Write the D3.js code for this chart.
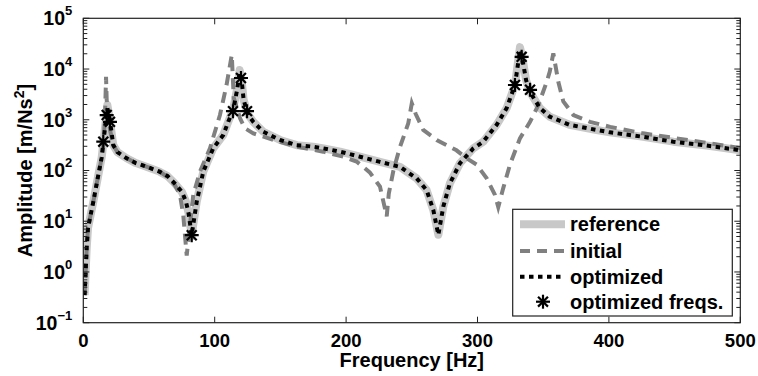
<!DOCTYPE html>
<html>
<head>
<meta charset="utf-8">
<script src="https://cdn.jsdelivr.net/npm/d3@7"></script>
<style>
    body { margin: 0; background: #fff; }
    text { font-family: "Liberation Sans", Arial, Helvetica, sans-serif; font-weight: bold; fill: #000; }
</style>
</head>
<body>
<div id="chart"></div>
<script>
// frequency grid (Hz) and amplitudes
const refFreq = [1, 2.6, 3.6, 5.5, 7.6, 11.4, 14, 15.5, 17, 18.3, 19.5, 21, 22.8, 26, 33, 40, 48, 58, 64, 69, 75, 78, 80,
    81.5, 82.5, 83.5, 86.3, 91.3, 98.9, 106.5, 110.3, 114, 117, 119, 120.5, 122, 125, 129.4, 137, 149.7, 162.4, 175,
    182.9, 195.4, 210.6, 225.8, 241, 253.7, 261.3, 266.4, 270.2, 274, 279, 286.7, 296.8, 304.4, 314.6, 322.2, 328.5,
    332.3, 334.5, 337, 340, 347.5, 355, 370, 390.7, 400.8, 423.7, 449, 474.4, 500];
const refAmp = [0.35, 3, 7.4, 13, 24, 81, 180, 400, 900, 1950, 1300, 700, 316, 230, 174, 140, 119, 95, 78, 58, 38, 25, 15,
    8, 5, 8, 24, 95, 275, 500, 910, 1600, 4000, 9600, 6000, 2500, 1300, 910, 580, 400, 316, 295,
    273, 235, 187, 148, 118, 70, 41, 16.5, 5.4, 19.5, 56, 140, 273, 370, 795, 1700, 4840,
    27000, 15000, 6000, 3500, 1700, 1150, 795, 630, 565, 470, 370, 310, 250];
// optimized model, on the same grid as the reference
const optAmp = [0.35, 3, 7.4, 13, 24, 81, 180, 400, 900, 1700, 1250, 700, 316, 230, 174, 140, 119, 95, 78, 58, 38, 25, 15,
    8, 5.3, 8, 24, 95, 275, 500, 910, 1550, 3800, 8500, 6000, 2500, 1300, 910, 580, 400, 316, 295,
    273, 235, 187, 148, 118, 70, 41, 16.5, 5.4, 19.5, 56, 140, 273, 370, 795, 1700, 4840,
    23000, 14000, 6000, 3500, 1700, 1150, 795, 630, 565, 470, 370, 310, 250];
const initFreq = [1, 2.6, 3.6, 5.5, 7.6, 11.4, 14, 15.5, 16.5, 17.3, 17.8, 19, 20.5, 22.8, 26, 33, 40, 48, 58, 64, 69.8,
    73.6, 76.1, 78.7, 80.5, 83.7, 88.8, 96.4, 104, 109, 113, 114.5, 119.3, 123, 129.4, 144.6, 162.4, 182.6, 197.9,
    208, 218, 225.8, 230.9, 232.5, 236, 241, 247.3, 250, 253, 258.7, 268.9, 276.5, 284, 291.8, 299.4, 307, 313.3,
    315.8, 319.6, 324.7, 332.3, 340, 346.3, 352.7, 355, 357.7, 361.5, 365.3, 373, 385.6, 401, 426, 451.6, 475, 500];
const initAmp = [0.35, 3, 7.4, 13, 24, 81, 180, 400, 1100, 7000, 2500, 1100, 600, 316, 230, 174, 140, 119, 95, 75, 51,
    33, 13, 2.1, 6, 33, 95, 275, 1240, 4840, 19000, 2700, 1070, 680, 540, 400, 295, 235, 187,
    150, 92, 48, 12.5, 35, 100, 290, 850, 2100, 1300, 630, 400, 316, 250, 174, 130, 70, 33,
    19, 45, 130, 430, 910, 1950, 5600, 8900, 20400, 5600, 2300, 1240, 910, 725, 540, 430, 350, 275];
// optimized frequencies (markers)
const starFreq = [15.2, 17.8, 20.3, 82.5, 113.9, 120, 124.6, 328.5, 333.6, 340];
const starAmp = [370, 1240, 910, 5.3, 1480, 6650, 1480, 4840, 17400, 3900];

const xTicks = [0, 100, 200, 300, 400, 500];
const yExponents = [-1, 0, 1, 2, 3, 4, 5];
const legendLabels = ['reference', 'initial', 'optimized', 'optimized freqs.'];

const margin = {top: 18.3, right: 17.7, bottom: 53.3, left: 83.3},
    width = 758 - margin.left - margin.right,
    height = 376 - margin.top - margin.bottom;

const x = d3.scaleLinear().domain([0, 500]).range([0, width]);
const y = d3.scaleLog().domain([0.1, 1e5]).range([height, 0]);

const svg = d3.select('#chart')
    .append('svg')
    .attr('width', 758)
    .attr('height', 376)
    .append('g')
    .attr('transform', `translate(${margin.left},${margin.top})`);

svg.append('clipPath').attr('id', 'clip')
    .append('rect').attr('width', width).attr('height', height);

const line = d3.line()
    .x(d => x(d[0]))
    .y(d => y(d[1]));

const refData = refFreq.map((f, i) => [f, refAmp[i]]);
const optData = refFreq.map((f, i) => [f, optAmp[i]]);
const initData = initFreq.map((f, i) => [f, initAmp[i]]);

const plot = svg.append('g').attr('clip-path', 'url(#clip)');

// reference
plot.append('path')
    .attr('d', line(refData))
    .style('fill', 'none')
    .style('stroke', '#c8c8c8')
    .style('stroke-width', 8)
    .style('stroke-linejoin', 'round');

// initial
plot.append('path')
    .attr('d', line(initData))
    .style('fill', 'none')
    .style('stroke', '#808080')
    .style('stroke-width', 4)
    .style('stroke-dasharray', '11,7');

// optimized
plot.append('path')
    .attr('d', line(optData))
    .style('fill', 'none')
    .style('stroke', '#000')
    .style('stroke-width', 4)
    .style('stroke-dasharray', '4.5,4.5');

// asterisk marker
function star(g, cx, cy, r) {
    [0, 45, 90, 135].forEach(a => {
        const rad = a * Math.PI / 180;
        g.append('line')
            .attr('x1', cx - r * Math.cos(rad)).attr('y1', cy - r * Math.sin(rad))
            .attr('x2', cx + r * Math.cos(rad)).attr('y2', cy + r * Math.sin(rad))
            .style('stroke', '#000')
            .style('stroke-width', 2.2);
    });
}
starFreq.forEach((f, i) => star(plot, x(f), y(starAmp[i]), 7));

// axes box
svg.append('rect')
    .attr('width', width)
    .attr('height', height)
    .style('fill', 'none')
    .style('stroke', '#222')
    .style('stroke-width', 1.2);

// ticks, inside on all four sides
const ticks = svg.append('g').style('stroke', '#222').style('stroke-width', 1);
xTicks.forEach(t => {
    ticks.append('line').attr('x1', x(t)).attr('x2', x(t)).attr('y1', height).attr('y2', height - 6);
    ticks.append('line').attr('x1', x(t)).attr('x2', x(t)).attr('y1', 0).attr('y2', 6);
});
yExponents.forEach(e => {
    const v = Math.pow(10, e);
    ticks.append('line').attr('x1', 0).attr('x2', 6).attr('y1', y(v)).attr('y2', y(v));
    ticks.append('line').attr('x1', width).attr('x2', width - 6).attr('y1', y(v)).attr('y2', y(v));
    if (e < 5) {
        for (let k = 2; k <= 9; k++) {
            const m = k * v;
            ticks.append('line').attr('x1', 0).attr('x2', 4).attr('y1', y(m)).attr('y2', y(m));
            ticks.append('line').attr('x1', width).attr('x2', width - 4).attr('y1', y(m)).attr('y2', y(m));
        }
    }
});

// x tick labels
svg.selectAll('.xlabel')
    .data(xTicks)
    .enter().append('text')
    .attr('x', d => x(d))
    .attr('y', height + 24.5)
    .style('text-anchor', 'middle')
    .style('font-size', '18.5px')
    .text(d => d);

// y tick labels: 10 with superscript exponent
yExponents.forEach(e => {
    const t = svg.append('text')
        .attr('x', -11)
        .attr('y', y(Math.pow(10, e)) + 7)
        .style('text-anchor', 'end')
        .style('font-size', '19.5px');
    t.append('tspan').text('10');
    t.append('tspan')
        .attr('dy', -10)
        .style('font-size', '13px')
        .text(e < 0 ? '\u2212' + (-e) : e);
});

// text label for the x axis
svg.append('text')
    .attr('x', width / 2)
    .attr('y', height + 44.5)
    .style('text-anchor', 'middle')
    .style('font-size', '20px')
    .text('Frequency [Hz]');

// text label for the y axis
const yTitle = svg.append('text')
    .attr('transform', `translate(${32 - margin.left},${height / 2}) rotate(-90)`)
    .style('text-anchor', 'middle')
    .style('font-size', '20px');
yTitle.append('tspan').text('Amplitude [m/Ns');
yTitle.append('tspan').attr('dy', -8).style('font-size', '14px').text('2');
yTitle.append('tspan').attr('dy', 8).text(']');

// legend
const lg = svg.append('g').attr('transform', `translate(${512.7 - margin.left},${209.3 - margin.top})`);
lg.append('rect')
    .attr('width', 219.6)
    .attr('height', 106.7)
    .style('fill', '#fff')
    .style('stroke', '#222')
    .style('stroke-width', 1.2);
const rowY = [15, 41.7, 67.4, 92.4];
const sample = [
    {stroke: '#c8c8c8', w: 8, dash: null},
    {stroke: '#808080', w: 4, dash: '10,7'},
    {stroke: '#000', w: 4, dash: '4.5,4.5'}
];
sample.forEach((s, i) => {
    lg.append('line')
        .attr('x1', 7.3).attr('x2', 52.3)
        .attr('y1', rowY[i]).attr('y2', rowY[i])
        .style('stroke', s.stroke)
        .style('stroke-width', s.w)
        .style('stroke-dasharray', s.dash);
});
star(lg, 30.3, rowY[3], 7);
legendLabels.forEach((l, i) => {
    lg.append('text')
        .attr('x', 57.3)
        .attr('y', rowY[i] + 7)
        .style('font-size', '20px')
        .text(l);
});
</script>
</body>
</html>
